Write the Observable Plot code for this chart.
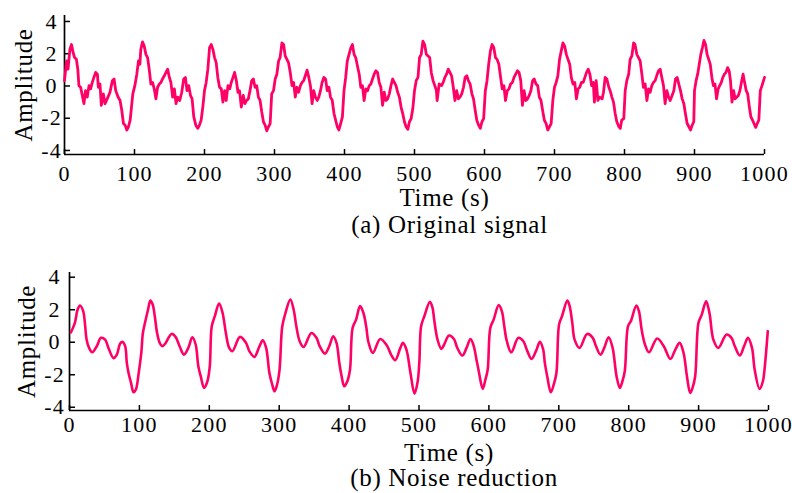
<!DOCTYPE html>
<html>
<head>
<meta charset="utf-8">
<script src="https://cdn.jsdelivr.net/npm/d3@7"></script>
<script src="https://cdn.jsdelivr.net/npm/@observablehq/plot@0.6"></script>
<style>
  html, body { margin: 0; padding: 0; background: #fff; }
  #chart { width: 792px; height: 493px; position: relative; overflow: hidden; }
  #chart svg { display: block; }
  #chart svg text { letter-spacing: 1.2px; }
  #chart svg g[aria-label="text"] text { letter-spacing: 0.7px; }
</style>
</head>
<body>
<div id="chart"></div>
<script>
// ---- tick labels & texts ----
const xTicks = [0, 100, 200, 300, 400, 500, 600, 700, 800, 900, 1000];
const yTicks = [-4, -2, 0, 2, 4];
const xLabel = "Time (s)";
const yLabel = "Amplitude";
const captionA = "(a) Original signal";
const captionB = "(b) Noise reduction";

// ---- (a) original signal: [time (s), amplitude] ----
const originalSignal = [
[0,0.33],[3,1.55],[5,1.04],[7.7,2.27],[10,2.57],[12.4,2.06],[14.4,1.76],[17,1.65],[19,1.04],[20.6,0.02],[23,-0.08],[25,-0.49],[27.8,-1.1],[30,-0.29],[32.5,-0.69],[35,0.02],[37.3,-0.18],[39.7,0.22],[42,0.53],[44.5,0.84],[47,0.73],[48.3,-0.08],[50.7,0.12],[52.6,-1.2],[55.5,-0.49],[57.9,-1.1],[61,-0.8],[65,-0.39],[68.4,0.33],[70.8,0.43],[73.2,-0.29],[76.5,-0.69],[79.4,-0.9],[81.8,-1.51],[84.2,-2.33],[86.6,-2.43],[89,-2.73],[91.4,-2.53],[93.8,-2.12],[95.7,-1.31],[97.6,-0.49],
[100.5,0.02],[103.3,0.73],[105.7,1.55],[107.7,1.35],[109,2.27],[111.5,2.73],[113.9,2.47],[116.3,1.96],[118.7,1.76],[121,1.04],[123.4,0.12],[125.8,0.22],[128.2,-0.18],[130.6,-0.8],[133,-0.08],[135.4,0.12],[137.8,0.22],[140,0.43],[142.6,0.63],[145,0.84],[147.4,1.04],[149.8,0.53],[152,0.22],[154.5,-0.69],[157,-0.18],[159.3,-1.1],[161.7,-0.69],[164.6,-0.9],[167.5,-0.39],[170.3,0.43],[172.7,0.53],[175,-0.29],[177.5,0.02],[180,-0.59],[182.3,-0.8],[184.7,-1.92],[187.6,-2.43],[190.4,-2.63],[192.8,-2.43],[195.2,-2.12],[197.6,-1.31],
[200,-0.29],[202.4,0.22],[204.8,1.04],[207.2,2.37],[209.6,2.57],[212,2.27],[214.4,1.76],[216.7,1.45],[219,0.53],[221.5,-0.08],[224,-0.18],[226.3,-1.0],[228.7,-0.29],[231,-0.9],[233.5,0.02],[236,-0.18],[238.3,0.22],[240.7,0.53],[243,0.84],[245.5,0.33],[247.8,-0.39],[250,-0.29],[252.6,-1.31],[255.4,-0.59],[257.8,-1.1],[260,-0.9],[262.6,-0.8],[265,-0.29],[267.4,0.33],[269.8,0.43],[272.2,-0.08],[274.6,0.02],[277,-0.69],[279.4,-0.9],[281.8,-1.61],[284.2,-2.22],[286.6,-2.43],[289,-2.78],[291.4,-2.53],[293.8,-2.33],[296,-0.49],[298.6,-0.29],
[301,0.43],[303.4,0.73],[305.8,1.55],[308,1.76],[310.6,2.67],[313,2.57],[315.3,1.86],[317.7,1.65],[320,1.45],[322.5,0.84],[325,0.02],[327.3,0.22],[329.7,-0.69],[332,-0.08],[334.5,-0.39],[337,0.02],[339.3,0.22],[341.7,0.33],[344,0.63],[346.5,0.98],[349,0.53],[351.3,0.02],[353.7,-1.1],[356,-0.29],[358.5,-0.69],[361,-0.9],[363.3,-0.69],[365.7,-0.29],[368,0.22],[370.5,0.53],[373,0.43],[375.3,-0.29],[377.7,-0.08],[380,-0.69],[382.5,-0.9],[385,-1.71],[387.3,-2.12],[389.7,-2.53],[392,-2.73],[394.5,-2.33],[397,-1.92],[399.3,-0.29],
[401.7,0.53],[404,1.55],[406.5,1.96],[409,2.37],[411.3,2.57],[413.7,1.96],[416,1.76],[418.5,1.24],[421,0.73],[423.3,-0.08],[425.7,0.02],[428,-0.9],[430.5,-0.18],[433,-0.29],[435.3,0.02],[437.7,0.12],[440,0.43],[442.4,0.73],[444.8,0.94],[447.2,0.84],[449.6,0.22],[452,-0.08],[454.4,-1.2],[456.8,-0.39],[459.2,-0.9],[461.6,-0.8],[464,-0.49],[466.4,0.02],[468.8,0.43],[471.2,0.22],[473.6,0.02],[476,-0.39],[478.4,-0.69],[480.8,-1.31],[483.2,-1.71],[485.6,-2.22],[488,-2.53],[490.4,-2.69],[492.8,-2.22],[495.2,-2.02],[497.6,-1.4],
[500,-0.29],[502.4,0.33],[505,0.53],[507.2,1.76],[509.6,1.96],[512,2.78],[514.5,2.57],[516.9,1.96],[519.3,1.86],[521.7,1.76],[524,0.84],[526.5,0.33],[529,0.02],[531.3,-0.29],[532.3,-0.9],[535.2,0.12],[538.6,0.02],[541,0.22],[543.4,0.53],[545.8,0.73],[548.2,1.04],[550.6,0.84],[553,0.63],[555.4,-0.08],[557.8,-0.9],[560.2,-0.29],[562.7,-0.8],[565,-0.69],[567.5,-0.49],[570,-0.08],[572.3,0.53],[574.7,0.63],[577,0.33],[579.5,0.12],[582,-0.49],[584.3,-0.8],[586.7,-1.51],[589,-2.12],[591.6,-2.43],[594,-2.63],[596.4,-2.22],[598.8,-2.02],
[601.2,-0.29],[603.6,0.33],[606,1.35],[608.4,2.16],[610.8,2.57],[613.3,2.37],[615.7,1.76],[618,1.65],[620.5,1.35],[623,0.53],[625.3,-0.18],[627.7,0.02],[630,-0.9],[632.5,-0.29],[635,-0.18],[637.3,0.12],[639.8,0.22],[642.2,0.53],[644.6,0.73],[647,0.94],[649.4,0.84],[651.8,0.33],[654.2,-1.2],[656.6,-0.29],[659,-0.9],[661.4,-0.8],[663.9,-0.59],[666.3,-0.29],[668.7,0.33],[671,0.43],[673.5,0.12],[676,0.02],[678.3,-0.69],[680.7,-0.9],[683,-1.51],[685.5,-2.12],[688,-2.33],[690.4,-2.73],[692.8,-2.53],[695.2,-2.33],[697.6,-0.9],
[700,-0.08],[702.4,0.22],[704.8,0.63],[707.2,1.65],[709.6,2.16],[712,2.67],[714.5,2.47],[716.9,1.96],[719.3,1.65],[721.7,1.35],[724,0.53],[726.5,0.12],[729,0.22],[731.3,-0.8],[733.7,-0.18],[736,-0.08],[738.5,0.22],[741,0.22],[743.4,0.53],[745.8,0.84],[748.2,1.04],[750.6,0.73],[753,0.02],[755.4,0.22],[757,-1.0],[759.5,0.33],[762,-0.9],[764.3,-0.69],[768,-0.8],[770,-0.39],[772.4,0.53],[774.8,0.43],[777.6,-0.08],[779.5,-0.29],[782,-0.69],[784.3,-1.0],[786.7,-1.71],[789,-2.22],[792,-2.53],[794,-2.63],[796,-2.12],[799,-2.02],
[801,-0.29],[803.3,0.33],[806,0.73],[808,1.65],[810.5,1.86],[813,2.67],[815,2.57],[817.6,1.96],[820,1.76],[822.4,1.55],[824.8,0.73],[827,-0.08],[829.5,0.12],[832,-0.9],[834.3,-0.18],[836.7,-0.39],[839,0.02],[841.4,0.22],[843.8,0.33],[846,0.63],[848.6,0.94],[851,1.04],[853.3,0.53],[855.7,0.02],[858,-1.1],[860.5,-0.29],[863,-0.69],[865.2,-0.9],[868,-0.59],[870.5,-0.29],[872.9,0.43],[875.2,0.53],[877.6,0.12],[880,-0.29],[882.4,-0.8],[884.8,-1.1],[887,-1.71],[889.5,-2.33],[892,-2.53],[894.3,-2.73],[896.7,-2.43],[899,-2.22],
[900,-0.29],[902.3,0.33],[904.5,0.73],[906.8,1.35],[909,1.96],[911.3,2.37],[913.5,2.82],[915.8,2.57],[918,1.96],[920.3,1.65],[922.5,1.35],[924.8,0.53],[927,0.02],[929.3,0.12],[931.5,-0.8],[933.8,-0.18],[936,0.02],[938.3,0.22],[940.5,0.53],[942.8,0.73],[945,0.84],[947.3,1.14],[949.5,0.94],[951.4,0.33],[953.6,-1.0],[955.9,-0.29],[958,-0.8],[960.4,-0.69],[962.6,-0.59],[964.9,-0.29],[967,0.22],[969.4,0.73],[971.6,0.22],[973.9,-0.29],[976,-0.49],[978.4,-1.31],[980.6,-1.92],[982.9,-2.12],[985,-2.33],[987.4,-2.57],[989.6,-2.33],[991.9,-2.12],[994,-0.29],[996.4,0.02],[998.6,0.33],[1000,0.53]
];

// ---- (b) noise-reduced signal: [time (s), amplitude] ----
const denoisedSignal = [
[2,0.6],[7.7,1.19],[11.5,2.0],[15,2.26],[19.7,1.9],[22,1.19],[24.5,0.16],[28,-0.35],[32.6,-0.62],[39,-0.25],[45,0.27],[51,0.16],[55.7,-0.35],[63,-0.98],[67.7,-0.76],[72.5,-0.08],[76,0.02],[79.7,-0.25],[82,-1.27],[84.5,-1.89],[88,-2.5],[91.7,-3.08],[95,-2.91],[99,-1.89],
[102.7,-0.66],[105,0.57],[108.5,1.29],[112.3,2.0],[115.7,2.56],[119,2.32],[122,1.6],[125.3,0.57],[129,-0.04],[132.5,-0.25],[137,-0.08],[146,0.51],[151.7,0.33],[157.5,-0.25],[163.7,-0.76],[170,-0.35],[175.7,0.31],[180.5,-0.14],[184.3,-1.48],[187.7,-2.09],[192.5,-2.81],[197.3,-2.4],
[200.7,-1.48],[203.5,0.98],[207.9,1.6],[214,2.38],[219,1.8],[223.7,0.57],[228.5,-0.35],[233,-0.55],[243.9,0.33],[252.5,-0.04],[257.3,-0.55],[264.5,-0.9],[271.7,-0.25],[276.5,0.12],[281.3,-0.35],[286,-1.89],[290,-2.6],[293.3,-3.02],[297,-2.6],
[300.5,-1.68],[304.4,0.98],[309,1.8],[315.9,2.63],[320.7,2.0],[324.5,0.98],[329.3,0.06],[335,-0.29],[346,0.57],[353.3,0.27],[358,-0.25],[365.3,-0.7],[371.6,-0.25],[377.3,0.37],[382,-0.04],[386,-1.27],[389.3,-2.09],[393,-2.71],[397.5,-2.4],
[401.3,-1.68],[405,0.88],[410,1.39],[415.7,2.22],[420.5,1.8],[424.4,0.98],[427.7,0.0],[434,-0.66],[444.5,0.2],[454,-0.2],[460,-0.76],[466,-1.1],[473.3,-0.35],[477,-0.04],[482,-0.45],[487.8,-1.89],[493.5,-3.16],[498,-2.45],
[500.5,-1.2],[503,0.98],[507.6,1.6],[515.6,2.48],[519.4,2.11],[521.7,1.39],[526.5,0.16],[532,-0.41],[536,-0.14],[543,0.41],[550,0.2],[554.8,-0.35],[562,-0.82],[568,-0.35],[573.7,0.2],[578.4,-0.25],[582.2,-1.07],[585.5,-1.78],[591.2,-2.87],[595,-2.3],[598.3,-1.68],
[602,0.88],[606.8,1.39],[614,2.28],[618.6,1.9],[622,0.98],[625.7,0.06],[632,-0.62],[642.2,0.27],[649.3,0.06],[655,-0.55],[661,-1.03],[667.3,-0.55],[673,0.02],[677.7,-0.45],[680,-1.27],[683.4,-2.09],[688.6,-3.08],[692.8,-2.6],[696.6,-1.89],
[700.4,1.09],[704.6,1.6],[712.2,2.56],[715.5,2.22],[719.3,1.19],[722.6,0.16],[729.7,-0.35],[740.5,0.51],[748.6,0.27],[753.3,-0.25],[759.5,-0.76],[765,-0.35],[771.3,0.31],[777,-0.35],[782.6,-2.09],[787.3,-2.81],[791,-2.4],[794.4,-1.78],
[799,0.98],[803,1.29],[811,2.26],[814.7,1.9],[818.5,0.78],[823.3,-0.14],[829,-0.62],[840.7,0.23],[850.2,-0.25],[859.6,-1.03],[866.7,-0.45],[872.9,-0.04],[878.5,-0.66],[883.3,-2.09],[888,-3.12],[891.3,-2.81],[895.1,-2.09],
[899.8,1.19],[904.5,1.7],[910.7,2.52],[914,2.11],[916.3,1.6],[921.1,0.16],[928.2,-0.35],[940,0.47],[947,0.27],[951.8,-0.25],[958.9,-0.82],[965,-0.25],[970.7,0.27],[976.4,-0.35],[980.2,-1.68],[987.2,-2.87],[992,-2.4],[994.3,-1.68],[999,0.68]
];

const lineColor = "#ff0066";
const fontFamily = '"Liberation Serif", "Times New Roman", Times, serif';

function panel(o) {
  const data = o.signal.map(([t, v]) => ({t, v}));
  const label = (txt, extra) => Plot.text([txt], {text: d => d, textAnchor: "middle", lineAnchor: "middle", fontSize: 25, ...extra});
  return Plot.plot({
    width: 792,
    height: o.height,
    marginTop: o.marginTop,
    marginBottom: o.marginBottom,
    marginLeft: o.marginLeft,
    marginRight: o.marginRight,
    style: {fontFamily, fontSize: "22px", color: "#000", background: "#fff", overflow: "visible"},
    x: {domain: [0, 1000]},
    y: {domain: o.yDomain},
    marks: [
      Plot.axisX({ticks: xTicks, tickSize: -5, tickPadding: o.xTickPad, tickFormat: d => String(d), label: null, strokeWidth: 1.5}),
      Plot.axisY({ticks: yTicks, tickSize: -6, tickPadding: o.yTickPad, textAnchor: "middle", tickFormat: d => String(d), label: null, strokeWidth: 1.5}),
      Plot.ruleX([0], {stroke: "#000", strokeWidth: 1.7}),
      Plot.ruleY([o.yDomain[0]], {stroke: "#000", strokeWidth: 1.7}),
      Plot.line(data, {x: "t", y: "v", stroke: lineColor, strokeWidth: o.strokeWidth, curve: o.curve}),
      label(xLabel, {frameAnchor: "bottom", dx: 30, dy: o.xLabelDy}),
      label(o.caption, {frameAnchor: "bottom", dx: 35, dy: o.captionDy}),
      label(yLabel, {frameAnchor: "left", dx: o.yLabelDx, rotate: -90})
    ]
  });
}

const chart = document.getElementById("chart");
chart.append(panel({
  signal: originalSignal, caption: captionA,
  height: 240, marginTop: 15, marginBottom: 86, marginLeft: 64, marginRight: 28,
  yDomain: [-4.25, 4.37], xTickPad: 16, yTickPad: 19,
  xLabelDy: 43, captionDy: 70, yLabelDx: -41,
  strokeWidth: 2.8, curve: "linear"
}));
chart.append(panel({
  signal: denoisedSignal, caption: captionB,
  height: 253, marginTop: 32, marginBottom: 83, marginLeft: 69, marginRight: 24,
  yDomain: [-4.2, 4.29], xTickPad: 11, yTickPad: 21,
  xLabelDy: 42, captionDy: 67, yLabelDx: -43,
  strokeWidth: 2.6, curve: "catmull-rom"
}));
</script>
</body>
</html>
